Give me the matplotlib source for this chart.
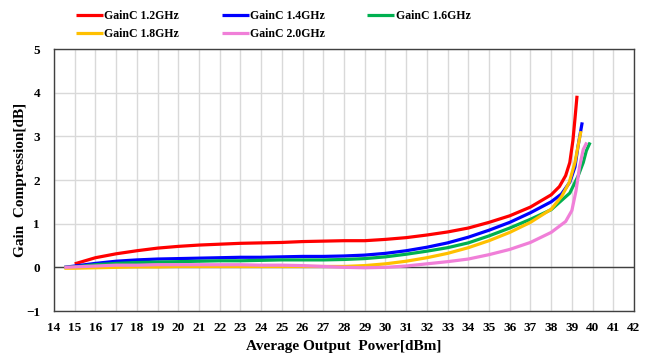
import numpy as np
import matplotlib.pyplot as plt

plt.rcParams['font.family'] = ['Liberation Serif', 'DejaVu Serif']
plt.rcParams['font.weight'] = 'bold'

# gain compression vs. average output power, one curve per carrier frequency
pout_12 = [15, 16, 17, 18, 19, 20, 21, 22, 23, 24, 25, 26, 27, 28, 29, 30, 31, 32, 33, 34,
           35, 36, 37, 38, 38.4, 38.7, 38.9, 39.05, 39.15, 39.25]
gc_12 = [0.08, 0.22, 0.31, 0.38, 0.44, 0.48, 0.51, 0.53, 0.55, 0.56, 0.57, 0.59, 0.60, 0.61,
         0.61, 0.64, 0.68, 0.74, 0.81, 0.90, 1.03, 1.18, 1.38, 1.66, 1.85, 2.10, 2.40, 2.90,
         3.40, 3.93]

pout_14 = [14.5, 15, 16, 17, 18, 19, 20, 21, 22, 23, 24, 25, 26, 27, 28, 29, 30, 31, 32, 33,
           34, 35, 36, 37, 38, 38.5, 38.9, 39.15, 39.3, 39.5]
gc_14 = [0.0, 0.03, 0.09, 0.14, 0.17, 0.19, 0.20, 0.21, 0.22, 0.23, 0.23, 0.24, 0.25, 0.25,
         0.26, 0.28, 0.32, 0.38, 0.46, 0.56, 0.69, 0.85, 1.03, 1.25, 1.50, 1.68, 1.95, 2.30,
         2.78, 3.32]

pout_16 = [14.5, 15, 16, 17, 18, 19, 20, 21, 22, 23, 24, 25, 26, 27, 28, 29, 30, 31, 32, 33,
           34, 35, 36, 37, 38, 38.9, 39.3, 39.55, 39.7, 39.88]
gc_16 = [0.0, 0.01, 0.06, 0.09, 0.11, 0.12, 0.13, 0.14, 0.15, 0.15, 0.16, 0.17, 0.17, 0.17,
         0.18, 0.20, 0.24, 0.30, 0.37, 0.45, 0.56, 0.72, 0.90, 1.10, 1.32, 1.70, 2.09, 2.40,
         2.67, 2.86]

pout_18 = [14.5, 15, 16, 17, 18, 19, 20, 21, 22, 23, 24, 25, 26, 27, 28, 29, 30, 31, 32, 33,
           34, 35, 36, 37, 38, 38.5, 38.87, 39.15, 39.3, 39.44]
gc_18 = [-0.02, -0.02, -0.01, 0.0, 0.01, 0.01, 0.02, 0.02, 0.02, 0.02, 0.02, 0.02, 0.02, 0.02,
         0.02, 0.04, 0.08, 0.14, 0.22, 0.32, 0.45, 0.61, 0.80, 1.03, 1.33, 1.62, 1.94, 2.40,
         2.78, 3.12]

pout_20 = [14.5, 15, 16, 17, 18, 19, 20, 21, 22, 23, 24, 25, 26, 27, 28, 29, 30, 31, 32, 33,
           34, 35, 36, 37, 38, 38.7, 39.0, 39.2, 39.37, 39.55, 39.72]
gc_20 = [0.0, 0.01, 0.03, 0.05, 0.05, 0.06, 0.06, 0.06, 0.06, 0.06, 0.05, 0.05, 0.04, 0.02,
         0.0, -0.01, 0.0, 0.03, 0.08, 0.13, 0.19, 0.29, 0.41, 0.57, 0.80, 1.05, 1.30, 1.75,
         2.30, 2.70, 2.86]

series = [
    ("GainC 1.2GHz", pout_12, gc_12, "#FF0000"),
    ("GainC 1.4GHz", pout_14, gc_14, "#0000FF"),
    ("GainC 1.6GHz", pout_16, gc_16, "#00B050"),
    ("GainC 1.8GHz", pout_18, gc_18, "#FFC000"),
    ("GainC 2.0GHz", pout_20, gc_20, "#F07FD8"),
]

fig = plt.figure(figsize=(6.59, 3.58), dpi=100)
ax = fig.add_axes([54/659, 1 - 311/358, 580/659, 262/358])

lines = []
for label, x, y, c in series:
    ln, = ax.plot(x, y, color=c, lw=2.3, label=label, solid_capstyle='butt', zorder=3)
    lines.append(ln)

ax.set_xlim(14, 42)
ax.set_ylim(-1, 5)
ax.set_xticks(np.arange(14, 43, 1))
ax.set_yticks(np.arange(-1, 6, 1))
ax.grid(True, color='#D9D9D9', lw=1.0, zorder=0)
ax.axhline(0, color='#404040', lw=1.0, zorder=2)
ax.tick_params(length=0, labelsize=9.5, pad=8)
ax.tick_params(axis='y', pad=10)
for lab in ax.get_xticklabels() + ax.get_yticklabels():
    lab.set_fontweight('bold')
for s in ax.spines.values():
    s.set_color('#404040')
    s.set_linewidth(1.0)

ax.set_xlabel("Average Output  Power[dBm]", fontsize=11, fontweight='bold', labelpad=4)
ax.set_ylabel("Gain  Compression[dB]", fontsize=11, fontweight='bold', labelpad=-1)

# legend filled column-wise, so reorder to read row by row
order = [0, 3, 1, 4, 2]
fig.legend([lines[i] for i in order], [series[i][0] for i in order],
           loc='upper left', bbox_to_anchor=(76/659, 1 - 10/358), ncol=3, frameon=False,
           handlelength=2.3, handletextpad=0.1, columnspacing=3.6,
           labelspacing=0.55, borderaxespad=0, borderpad=0,
           prop={'weight': 'bold', 'size': 8.5})

fig.savefig("out.png", dpi=100)
